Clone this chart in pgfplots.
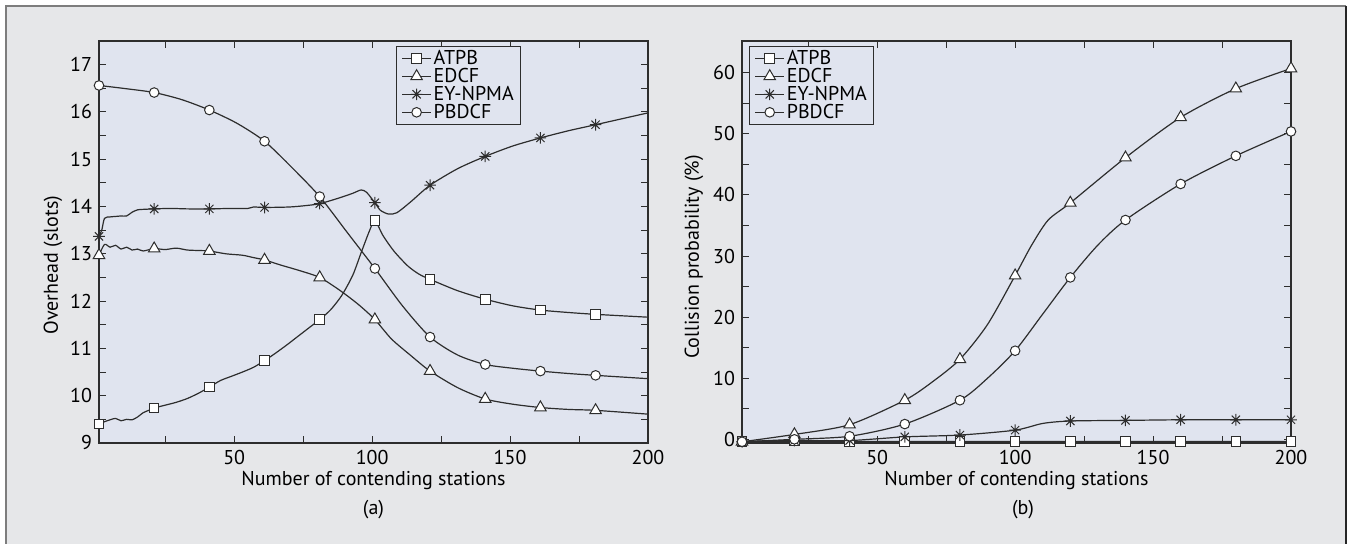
\documentclass[border=0pt]{standalone}
\usepackage{fontspec}
\setmainfont{PT Sans}
\usepackage{pgfplots}
\pgfplotsset{compat=1.18}

\definecolor{outerbg}{RGB}{230,231,233}
\definecolor{axbg}{RGB}{224,228,239}
\definecolor{framec}{RGB}{125,125,125}
\definecolor{ink}{RGB}{45,45,45}

\newcommand{\myfont}{\fontsize{10pt}{12pt}\selectfont}

% eight-armed star like the one in the figure
\pgfdeclareplotmark{star8}{%
  \pgfpathmoveto{\pgfqpoint{-\pgfplotmarksize}{0pt}}\pgfpathlineto{\pgfqpoint{\pgfplotmarksize}{0pt}}%
  \pgfpathmoveto{\pgfqpoint{0pt}{-\pgfplotmarksize}}\pgfpathlineto{\pgfqpoint{0pt}{\pgfplotmarksize}}%
  \pgfpathmoveto{\pgfqpoint{-0.707\pgfplotmarksize}{-0.707\pgfplotmarksize}}\pgfpathlineto{\pgfqpoint{0.707\pgfplotmarksize}{0.707\pgfplotmarksize}}%
  \pgfpathmoveto{\pgfqpoint{-0.707\pgfplotmarksize}{0.707\pgfplotmarksize}}\pgfpathlineto{\pgfqpoint{0.707\pgfplotmarksize}{-0.707\pgfplotmarksize}}%
  \pgfusepathqstroke}

\pgfplotsset{
  panel/.style={
    scale only axis, width=274.5pt, height=201pt,
    xmin=1, xmax=200,
    axis background/.style={fill=axbg},
    axis line style={ink, line width=0.6pt},
    tick style={ink, line width=0.5pt},
    major tick length=3.5pt, minor tick length=3.5pt,
    tick align=inside,
    xtick={50,100,150,200}, minor xtick={25,75,125,175},
    /pgf/number format/assume math mode=true,
    tick label style={font=\myfont, text=black},
    label style={font=\myfont, text=black},
    xlabel={Number of contending stations},
    xlabel style={at={(axis description cs:0.5,-0.0945)}, anchor=center},
    legend style={draw=ink, fill=axbg, font=\myfont, line width=0.5pt,
      inner xsep=2.5pt, inner ysep=1.5pt, row sep=0pt,
      nodes={inner xsep=1pt, inner ysep=0.4pt, text height=7pt, text depth=1.2pt}},
    legend cell align=left,
    legend image code/.code={%
      \draw[ink, line width=0.6pt] (0pt,0pt) -- (14.5pt,0pt);
      \draw[##1, mark indices={1}] plot coordinates {(7.25pt,0pt)};},
    every axis plot/.append style={ink, line width=0.6pt, smooth, tension=0.45,
      mark options={solid, fill=white, draw=ink, line width=0.5pt}},
  },
  sq/.style={mark=square*, mark size=2.4pt},
  tri/.style={mark=triangle*, mark size=3.3pt},
  st/.style={mark=star8, mark size=2.9pt},
  ci/.style={mark=*, mark size=2.4pt},
}

\begin{document}
\begin{tikzpicture}
\useasboundingbox (0,0) rectangle (675pt,-272pt);
\fill[white] (0,0) rectangle (675pt,-272pt);
\fill[outerbg] (3pt,-3pt) rectangle (673pt,-285pt);
\draw[framec, line width=1pt] (3pt,-285pt) -- (3pt,-3pt) -- (673pt,-3pt);
\draw[black!85, line width=1pt] (673pt,-3pt) -- (673pt,-285pt);

% (a) overhead
\begin{axis}[panel,
  at={(49.5pt,-20.5pt)}, anchor=north west,
  ymin=9, ymax=17.5,
  ytick={9,10,...,17}, minor ytick={9.5,10.5,...,16.5},
  legend style={at={(0.541,0.988)}, anchor=north west},
]
\addplot[sq, mark indices={1,11,16,21,26,32,37,39,41,43}] coordinates {
(1,9.40)(3,9.45)(5,9.49)(7,9.52)(9,9.47)(11,9.50)(13,9.49)(15,9.55)(17,9.64)(19,9.69)
(21,9.74)(25,9.80)(29,9.86)(33,9.94)(37,10.05)(41,10.18)(45,10.32)(49,10.41)(53,10.50)(57,10.60)
(61,10.74)(65,10.90)(69,11.07)(73,11.25)(77,11.43)(81,11.61)(85,11.82)(89,12.12)(93,12.55)(96,13.02)
(99,13.48)(101,13.70)(104,13.38)(108,13.05)(113,12.74)(117,12.57)(121,12.46)(131,12.22)(141,12.04)(151,11.90)
(161,11.81)(171,11.76)(181,11.72)(200,11.66)};
\addlegendentry{ATPB}
\addplot[tri, mark indices={1,10,15,19,22,25,28,30,32,34}] coordinates {
(1,12.97)(3,13.20)(5,13.14)(7,13.18)(9,13.10)(11,13.14)(13,13.08)(15,13.10)(17,13.06)
(21,13.11)(25,13.09)(29,13.12)(33,13.08)(37,13.07)(41,13.06)(47,13.00)(53,12.97)(57,12.92)
(61,12.87)(67,12.76)(74,12.64)(81,12.50)(88,12.24)(95,11.93)(101,11.61)(107,11.20)(114,10.85)
(121,10.52)(131,10.17)(141,9.93)(151,9.82)(161,9.75)(171,9.71)(181,9.69)(200,9.61)};
\addlegendentry{EDCF}
\addplot[st, mark indices={1,11,14,18,21,26,31,33,35,37}] coordinates {
(1,13.37)(2,13.50)(3,13.75)(5,13.78)(7,13.79)(9,13.80)(11,13.80)(13,13.88)(15,13.93)(17,13.94)
(21,13.95)(27,13.96)(33,13.95)(41,13.95)(49,13.96)(55,13.96)(57,13.99)(61,13.98)(70,13.99)(76,14.02)
(81,14.06)(88,14.18)(93,14.28)(96,14.35)(98,14.30)(101,14.08)(103,13.92)(106,13.84)(109,13.87)(114,14.10)
(121,14.45)(131,14.80)(141,15.06)(151,15.28)(161,15.45)(171,15.60)(181,15.73)(200,15.98)};
\addlegendentry{EY-NPMA}
\addplot[ci, mark indices={1,3,5,7,9,11,13,15,17,19}] coordinates {
(1,16.56)(11,16.49)(21,16.41)(31,16.26)(41,16.04)(51,15.76)(61,15.38)(71,14.82)(81,14.21)(91,13.45)
(101,12.69)(111,11.90)(121,11.24)(131,10.86)(141,10.66)(151,10.58)(161,10.52)(171,10.47)(181,10.43)(200,10.36)};
\addlegendentry{PBDCF}
\end{axis}
\node[font=\myfont, rotate=90] at (26.5pt,-132.5pt) {Overhead (slots)};
\node[font=\myfont] at (186.75pt,-255pt) {(a)};

% (b) collision probability
\begin{axis}[panel,
  at={(371pt,-20.5pt)}, anchor=north west,
  ymin=-0.6, ymax=65.2,
  ytick={0,10,...,60}, minor ytick={5,15,...,55},
  legend style={at={(0.013,0.988)}, anchor=north west},
]
\addplot[sq] coordinates {
(1,-0.35)(20,-0.3)(40,-0.35)(60,-0.35)(80,-0.35)(100,-0.35)(120,-0.35)(140,-0.35)(160,-0.35)(180,-0.35)(200,-0.35)};
\addlegendentry{ATPB}
\addplot[tri, mark indices={1,2,3,4,6,8,11,12,13,14,15}] coordinates {
(1,-0.4)(20,0.8)(40,2.4)(60,6.4)(70,9.4)(80,13.1)(90,18.8)(100,26.8)(106,31.8)(112,35.9)
(120,38.7)(140,46.1)(160,52.7)(180,57.4)(200,60.7)};
\addlegendentry{EDCF}
\addplot[st, mark indices={1,2,3,4,5,6,8,9,10,11,12}] coordinates {
(1,-0.4)(20,-0.2)(40,-0.2)(60,0.4)(80,0.7)(100,1.5)(110,2.6)(120,3.0)(140,3.1)(160,3.2)(180,3.2)(200,3.2)};
\addlegendentry{EY-NPMA}
\addplot[ci, mark indices={1,2,3,4,5,7,9,11,12,13,14}] coordinates {
(1,-0.4)(20,0.0)(40,0.5)(60,2.5)(80,6.4)(90,10.0)(100,14.5)(110,20.5)(120,26.5)(130,31.8)
(140,35.9)(160,41.8)(180,46.4)(200,50.4)};
\addlegendentry{PBDCF}
\end{axis}
\node[font=\myfont, rotate=90] at (347pt,-128.5pt) {Collision probability (\%)};
\node[font=\myfont] at (511.5pt,-255pt) {(b)};
\end{tikzpicture}
\end{document}
